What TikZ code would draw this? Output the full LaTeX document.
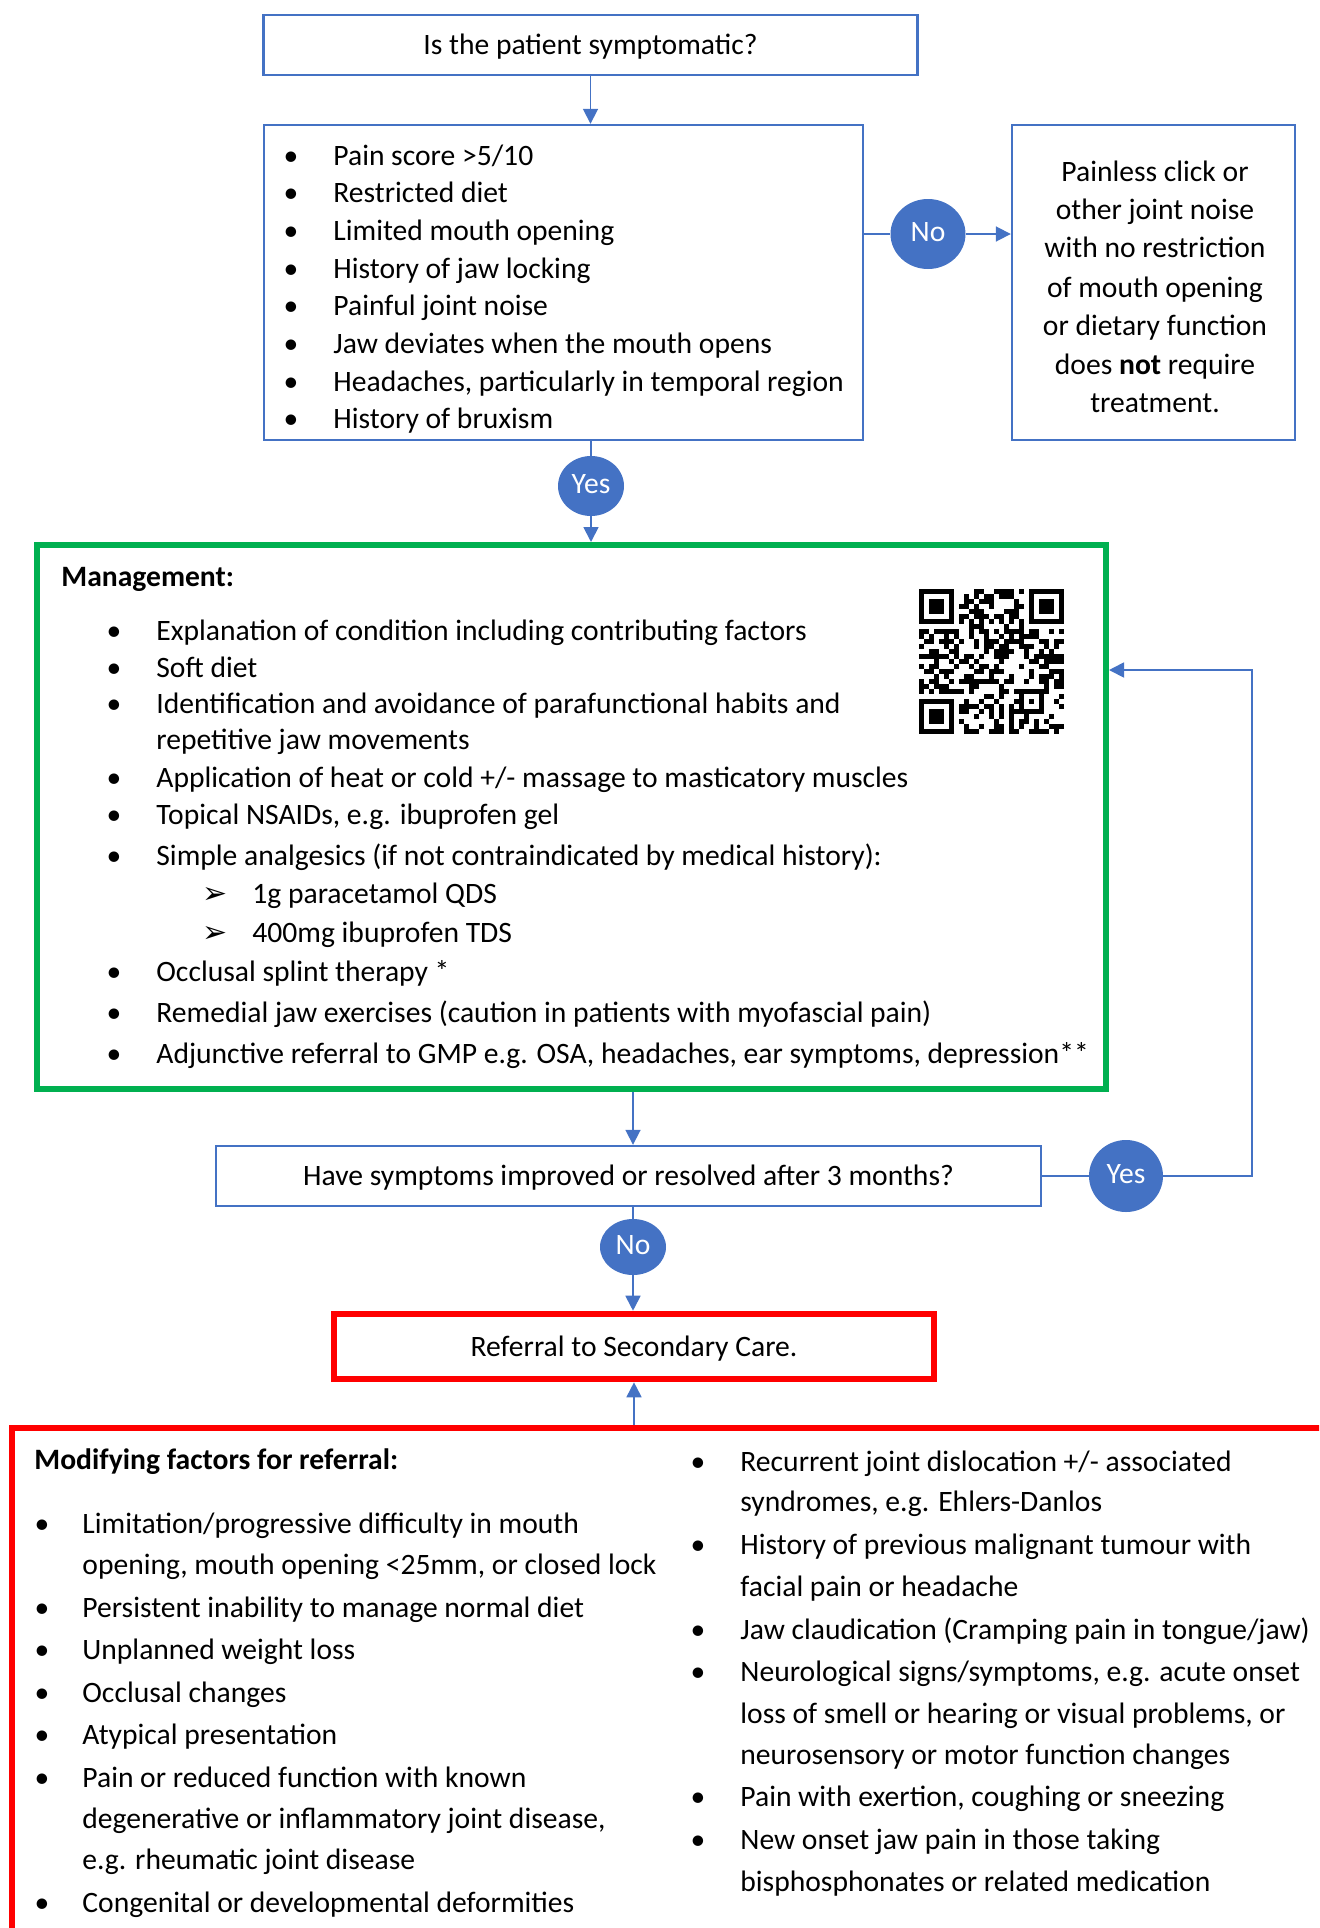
\documentclass[tikz,border=0pt]{standalone}
\usepackage{fontspec}
\setmainfont{Carlito}
\newfontfamily\djv{DejaVu Sans}
\usetikzlibrary{arrows.meta,shapes.geometric}
\definecolor{oblue}{HTML}{4472C4}
\definecolor{ogreen}{HTML}{00B050}
\definecolor{ored}{HTML}{FF0000}
\newcommand\bitem[5]{\node[bul] (#1b) at (#2,#4) {•}; \node[txt] (#1) at (#3,#4) {#5};}
\newcommand\citem[4]{\node[txt] (#1) at (#2,#3) {#4};}
\newcommand\aitem[5]{\node[bul] (#1b) at (#2,#4) {\fontsize{15}{17}\djv ➢}; \node[txt] (#1) at (#3,#4) {#5};}
\begin{document}
\begin{tikzpicture}[x=0.5pt,y=-0.5pt,
  bodyfont/.style={font=\fontsize{14.8}{17}\selectfont},
  box/.style={draw=oblue, line width=1.2pt, inner sep=0, text height=12.5pt, text depth=3pt, bodyfont},
  gbox/.style={draw=ogreen, line width=3pt, inner sep=0},
  rbox/.style={draw=ored, line width=3.3pt, inner sep=0, text height=12.5pt, text depth=3pt, bodyfont},
  circ/.style={ellipse, fill=oblue, text=white, inner sep=0, text height=10.5pt, text depth=3pt, bodyfont},
  conn/.style={draw=oblue, line width=0.9pt},
  arr/.style={conn, -{Triangle[length=7.5pt,width=7.5pt]}},
  txt/.style={anchor=west, inner sep=0, text height=12.5pt, text depth=3pt, bodyfont},
  bul/.style={txt, anchor=center},
  ctxt/.style={txt, anchor=center}]
\useasboundingbox (0,0) rectangle (1319,1928);
\clip (0,0) rectangle (1319,1928);

% boxes
\node[box, minimum width=327pt, minimum height=30pt] (top) at (590.5,45) {Is the patient symptomatic?};
\node[box, minimum width=299.5pt, minimum height=157.5pt] (sym) at (563.5,282.5) {};
\node[box, minimum width=141.5pt, minimum height=157.5pt] (right) at (1153.5,282.5) {};
\node[gbox, minimum width=534.5pt, minimum height=272pt] (mgmt) at (571.5,817) {};
\node[box, minimum width=412.5pt, minimum height=30pt] (q) at (628.5,1176) {Have symptoms improved or resolved after 3 months?};
\node[rbox, minimum width=300pt, minimum height=32.5pt] (ref) at (634,1346.5) {Referral to Secondary Care.};
\node[rbox, minimum width=694pt, minimum height=286pt] (mod) at (706,1714) {};

% circles
\node[circ, minimum width=37.5pt, minimum height=35pt] (no1) at (928,234) {No};
\node[circ, minimum width=33pt, minimum height=30pt] (yes1) at (591,486) {Yes};
\node[circ, minimum width=37pt, minimum height=36pt] (yes2) at (1126,1176) {Yes};
\node[circ, minimum width=33pt, minimum height=28pt] (no2) at (633,1247) {No};

% connectors
\draw[arr] (top.south) -- (top.south |- sym.north);
\draw[conn] (sym.south -| yes1) -- (yes1.north);
\draw[arr] (yes1.south) -- (yes1.south |- mgmt.north);
\draw[conn] (sym.east |- no1) -- (no1.west);
\draw[arr] (no1.east) -- (no1.east -| right.west);
\draw[arr] (mgmt.south -| no2) -- (q.north -| no2);
\draw[conn] (q.east) -- (yes2.west);
\coordinate (loop) at (1252,670);
\draw[arr] (yes2.east) -| (loop) -- (loop -| mgmt.east);
\draw[conn] (q.south -| no2) -- (no2.north);
\draw[arr] (no2.south) -- (no2.south |- ref.north);
\draw[arr] (mod.north -| ref) -- (ref.south);

% symptoms
\bitem{s1}{291}{333}{156}{Pain score >5/10}
\bitem{s2}{291}{333}{193}{Restricted diet}
\bitem{s3}{291}{333}{231}{Limited mouth opening}
\bitem{s4}{291}{333}{269}{History of jaw locking}
\bitem{s5}{291}{333}{306}{Painful joint noise}
\bitem{s6}{291}{333}{344}{Jaw deviates when the mouth opens}
\bitem{s7}{291}{333}{382}{Headaches, particularly in temporal region}
\bitem{s8}{291}{333}{419}{History of bruxism}

% right box
\node[ctxt] (r1) at (1155,172) {Painless click or};
\node[ctxt] (r2) at (1155,210) {other joint noise};
\node[ctxt] (r3) at (1155,248) {with no restriction};
\node[ctxt] (r4) at (1155,288) {of mouth opening};
\node[ctxt] (r5) at (1155,326) {or dietary function};
\node[ctxt] (r6) at (1155,365) {does \textbf{not} require};
\node[ctxt] (r7) at (1155,403) {treatment.};

% management
\node[txt] (mh) at (61,577) {\textbf{Management:}};
\bitem{m1}{114}{156}{631}{Explanation of condition including contributing factors}
\bitem{m2}{114}{156}{668}{Soft diet}
\bitem{m3}{114}{156}{704}{Identification and avoidance of parafunctional habits and}
\citem{m3c}{156}{740}{repetitive jaw movements}
\bitem{m4}{114}{156}{778}{Application of heat or cold +/- massage to masticatory muscles}
\bitem{m5}{114}{156}{815}{Topical NSAIDs, e.g. ibuprofen gel}
\bitem{m6}{114}{156}{856}{Simple analgesics (if not contraindicated by medical history):}
\aitem{m6a}{215}{252}{894}{1g paracetamol QDS}
\aitem{m6b}{215}{252}{933}{400mg ibuprofen TDS}
\bitem{m7}{114}{156}{972}{Occlusal splint therapy *}
\bitem{m8}{114}{156}{1013}{Remedial jaw exercises (caution in patients with myofascial pain)}
\bitem{m9}{114}{156}{1054}{Adjunctive referral to GMP e.g. OSA, headaches, ear symptoms, depression**}

% QR code
\begin{scope}[shift={(919,589)}]
\pgfmathsetseed{12345}
\foreach \i in {0,...,28}{\foreach \j in {0,...,28}{\pgfmathrandominteger{\r}{0}{1}\ifnum\r=1 \fill[black] (5*\i,5*\j) rectangle ++(5,5);\fi}}
\fill[white] (0,0) rectangle (40,40);
\fill[white] (105,0) rectangle (145,40);
\fill[white] (0,105) rectangle (40,145);
\foreach \a/\b in {0/0,110/0,0/110}{
  \fill[black] (\a,\b) rectangle ++(35,35);
  \fill[white] (\a+5,\b+5) rectangle ++(25,25);
  \fill[black] (\a+10,\b+10) rectangle ++(15,15);}
\foreach \k in {8,...,20}{
  \pgfmathtruncatemacro{\qpar}{mod(\k,2)}
  \ifnum\qpar=0 \fill[black] (5*\k,30) rectangle ++(5,5); \fill[black] (30,5*\k) rectangle ++(5,5);
  \else \fill[white] (5*\k,30) rectangle ++(5,5); \fill[white] (30,5*\k) rectangle ++(5,5);\fi}
\fill[black] (100,100) rectangle ++(25,25);
\fill[white] (105,105) rectangle ++(15,15);
\fill[black] (110,110) rectangle ++(5,5);
\end{scope}

% modifying factors
\node[txt] (fh) at (34,1460) {\textbf{Modifying factors for referral:}};
\bitem{f1}{42}{82}{1524}{Limitation/progressive difficulty in mouth}
\citem{f1c}{82}{1565}{opening, mouth opening <25mm, or closed lock}
\bitem{f2}{42}{82}{1608}{Persistent inability to manage normal diet}
\bitem{f3}{42}{82}{1650}{Unplanned weight loss}
\bitem{f4}{42}{82}{1693}{Occlusal changes}
\bitem{f5}{42}{82}{1735}{Atypical presentation}
\bitem{f6}{42}{82}{1778}{Pain or reduced function with known}
\citem{f6c}{82}{1819}{degenerative or inflammatory joint disease,}
\citem{f6d}{82}{1860}{e.g. rheumatic joint disease}
\bitem{f7}{42}{82}{1903}{Congenital or developmental deformities}

\bitem{g1}{698}{740}{1462}{Recurrent joint dislocation +/- associated}
\citem{g1c}{740}{1502}{syndromes, e.g. Ehlers-Danlos}
\bitem{g2}{698}{740}{1545}{History of previous malignant tumour with}
\citem{g2c}{740}{1587}{facial pain or headache}
\bitem{g3}{698}{740}{1630}{Jaw claudication (Cramping pain in tongue/jaw)}
\bitem{g4}{698}{740}{1672}{Neurological signs/symptoms, e.g. acute onset}
\citem{g4c}{740}{1714}{loss of smell or hearing or visual problems, or}
\citem{g4d}{740}{1755}{neurosensory or motor function changes}
\bitem{g5}{698}{740}{1797}{Pain with exertion, coughing or sneezing}
\bitem{g6}{698}{740}{1840}{New onset jaw pain in those taking}
\citem{g6c}{740}{1882}{bisphosphonates or related medication}
\end{tikzpicture}
\end{document}
